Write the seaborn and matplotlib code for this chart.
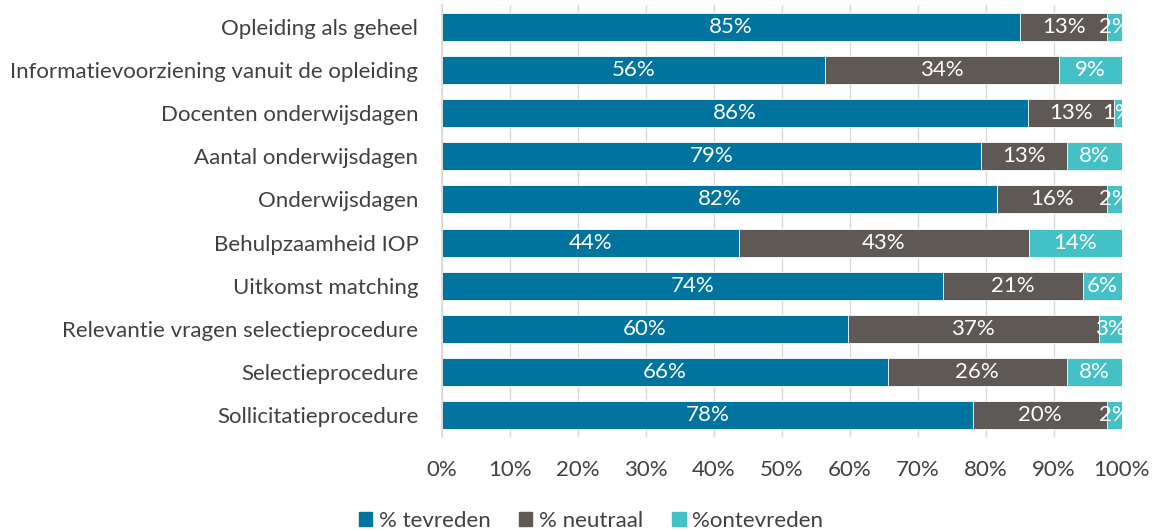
import matplotlib
matplotlib.use("Agg")
import matplotlib.pyplot as plt
import seaborn as sns
import pandas as pd
import numpy as np
from matplotlib.patches import Patch

categories = [
    "Opleiding als geheel",
    "Informatievoorziening vanuit de opleiding",
    "Docenten onderwijsdagen",
    "Aantal onderwijsdagen",
    "Onderwijsdagen",
    "Behulpzaamheid IOP",
    "Uitkomst matching",
    "Relevantie vragen selectieprocedure",
    "Selectieprocedure",
    "Sollicitatieprocedure",
]
tevreden = [85.1, 56.4, 86.2, 79.3, 81.6, 43.7, 73.7, 59.7, 65.6, 78.1]
neutraal = [12.7, 34.4, 12.6, 12.6, 16.2, 42.6, 20.6, 36.9, 26.3, 19.7]
ontevreden = [2.2, 9.2, 1.2, 8.1, 2.2, 13.7, 5.7, 3.4, 8.1, 2.2]
series_names = ["% tevreden", "% neutraal", "%ontevreden"]
xtick_values = [0, 10, 20, 30, 40, 50, 60, 70, 80, 90, 100]

colors = ["#00749F", "#5E5955", "#43C1C7"]
text_color = "#404040"

sns.set_theme(style="white")
plt.rcParams["font.family"] = ["Lato", "DejaVu Sans"]

df = pd.DataFrame({
    "cat": categories,
    "t": tevreden,
    "n": neutraal,
    "o": ontevreden,
})
df["c1"] = df["t"]
df["c2"] = df["t"] + df["n"]
df["c3"] = df["t"] + df["n"] + df["o"]

fig = plt.figure(figsize=(11.54, 5.30), dpi=100)
ax = fig.add_axes([0.383, 0.176, 0.972 - 0.383, 0.990 - 0.176])

for col, color in zip(["c3", "c2", "c1"], colors[::-1]):
    sns.barplot(data=df, x=col, y="cat", color=color, width=0.65,
                orient="h", ax=ax, saturation=1, edgecolor="white", linewidth=0.6)

# value labels
for i, row in df.iterrows():
    starts = [0, row["c1"], row["c2"]]
    vals = [row["t"], row["n"], row["o"]]
    for s, v in zip(starts, vals):
        ax.text(s + v / 2, i, f"{int(round(v))}%", ha="center", va="center",
                color="white", fontsize=16)

ax.set_xlim(0, 100)
ax.set_ylim(len(categories) - 0.5, -0.5)
ax.set_xticks(xtick_values)
ax.set_xticklabels([f"{v}%" for v in xtick_values])
ax.set_xlabel("")
ax.set_ylabel("")
ax.grid(axis="x", color="#D9D9D9", linewidth=1)
ax.set_axisbelow(True)
for s in ["top", "right", "bottom"]:
    ax.spines[s].set_visible(False)
ax.spines["left"].set_color("#D9D9D9")
ax.tick_params(axis="both", length=0, labelsize=16, colors=text_color)
ax.tick_params(axis="x", pad=17)
ax.tick_params(axis="y", pad=17)

handles = [Patch(facecolor=c, edgecolor=c) for c in colors]
fig.legend(handles, series_names, loc="lower center", bbox_to_anchor=(0.512, -0.04),
           ncol=3, frameon=False, fontsize=16, handlelength=0.6, handleheight=0.6,
           handletextpad=0.3, columnspacing=1.3, labelcolor=text_color)

fig.savefig("out.png", dpi=100)
